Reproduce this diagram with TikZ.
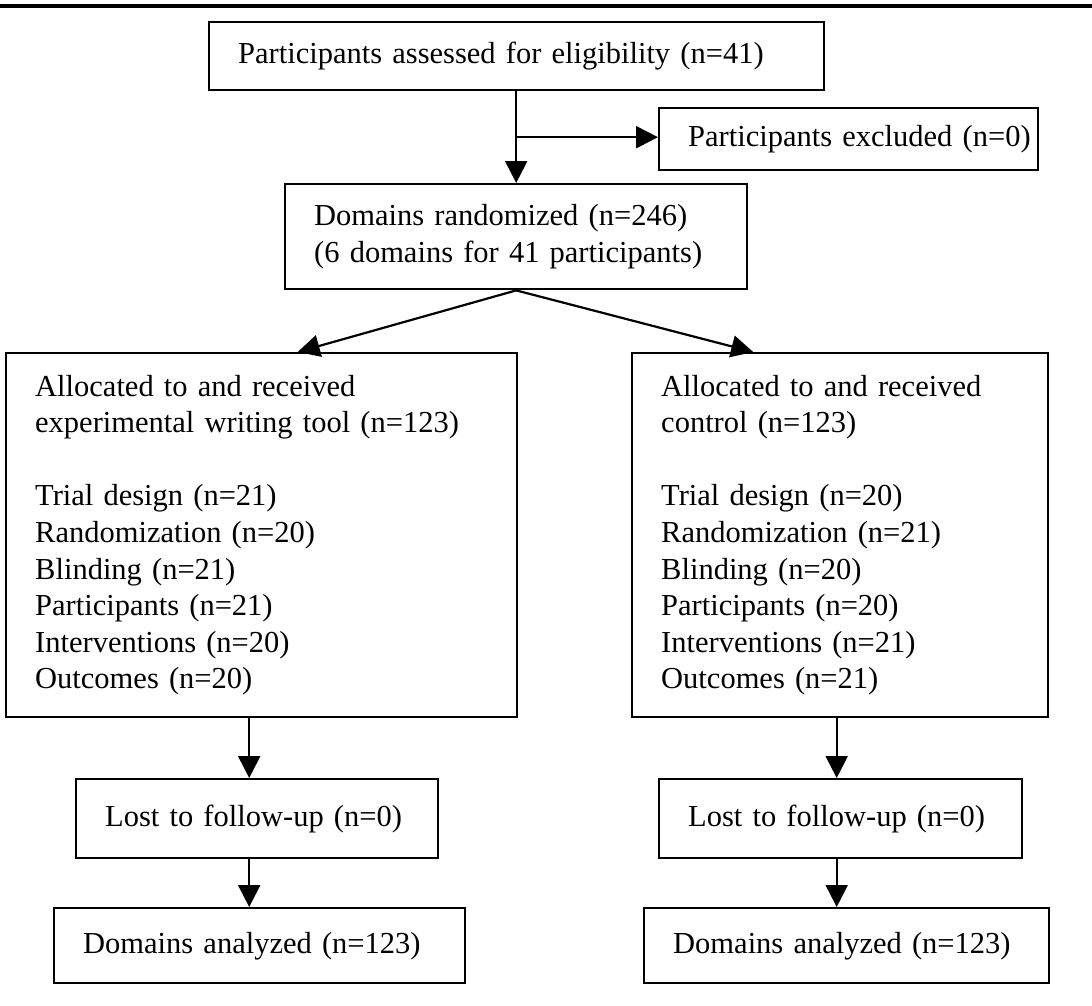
\documentclass[tikz,border=0pt]{standalone}
\usepackage{fontspec}
\setmainfont{Liberation Serif}[WordSpace=0.7]
\usetikzlibrary{arrows.meta,positioning,calc}

\begin{document}
\begin{tikzpicture}[
    x=1pt, y=-1pt,
    box/.style={rectangle, draw, line width=2.4pt, anchor=north west, align=left, inner xsep=29pt, inner ysep=0pt, font=\fontsize{30.5}{36.6}\selectfont},
    arrow/.style={-{Triangle[length=22pt, width=22pt]}, line width=2.2pt},
    rule/.style={line width=4pt}
]
    \useasboundingbox (0,0) rectangle (1092,1006);
    \draw[rule] (0,6) -- (1092,6);

    % Enrollment
    \node[box, text width=557pt, minimum height=68pt] (assessed) at (208,21) {Participants assessed for eligibility (n=41)};
    \node[box, text width=321pt, minimum height=62pt] (excluded) at (658,107) {\mbox{Participants excluded (n=0)}};
    \node[box, text width=404pt, minimum height=105pt] (randomized) at (284,183) {Domains randomized (n=246)\\(6 domains for 41 participants)};

    % Allocation
    \node[box, text width=453pt, minimum height=364pt] (expt) at (5,352) {Allocated to and received\\experimental writing tool (n=123)\\[36.6pt]Trial design (n=21)\\Randomization (n=20)\\Blinding (n=21)\\Participants (n=21)\\Interventions (n=20)\\Outcomes (n=20)};
    \node[box, text width=358pt, minimum height=364pt] (ctrl) at (631,352) {Allocated to and received\\control (n=123)\\[36.6pt]Trial design (n=20)\\Randomization (n=21)\\Blinding (n=20)\\Participants (n=20)\\Interventions (n=21)\\Outcomes (n=21)};

    % Follow-up and analysis
    \node[box, text width=304pt, minimum height=79pt] (lostE) at (75,778) {Lost to follow-up (n=0)};
    \node[box, text width=305pt, minimum height=79pt] (lostC) at (658,778) {Lost to follow-up (n=0)};
    \node[box, text width=353pt, minimum height=75pt] (analyzedE) at (53,907) {Domains analyzed (n=123)};
    \node[box, text width=347pt, minimum height=75pt] (analyzedC) at (643,907) {Domains analyzed (n=123)};

    % Arrows
    \coordinate (split) at ($(assessed.south)!0.5!(randomized.north)$);
    \coordinate (dropE) at ([xshift=-8pt]lostE.north);
    \coordinate (dropC) at ([xshift=-4pt]lostC.north);
    \draw[arrow] (randomized.north |- assessed.south) -- (randomized.north);
    \draw[arrow] (split -| randomized.north) -- (split -| excluded.west);
    \draw[arrow] (randomized.south) -- ([xshift=36pt]expt.north);
    \draw[arrow] (randomized.south) -- ([xshift=-87pt]ctrl.north);
    \draw[arrow] (dropE |- expt.south) -- (dropE);
    \draw[arrow] (dropE |- lostE.south) -- (dropE |- analyzedE.north);
    \draw[arrow] (dropC |- ctrl.south) -- (dropC);
    \draw[arrow] (dropC |- lostC.south) -- (dropC |- analyzedC.north);
\end{tikzpicture}
\end{document}
